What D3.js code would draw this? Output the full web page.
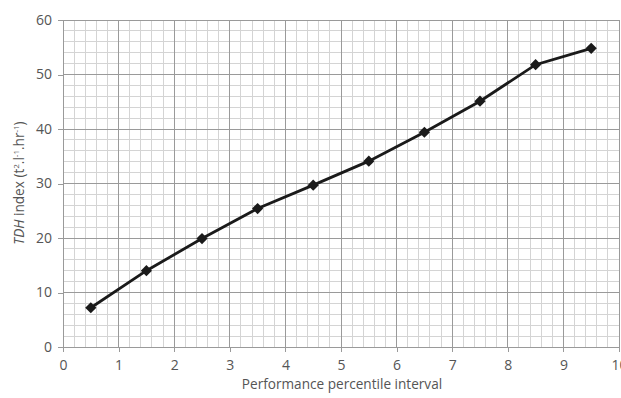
<!DOCTYPE html>
<html><head><meta charset="utf-8">
<script src="https://cdn.jsdelivr.net/npm/d3@7"></script>
<style>body{margin:0;background:#fff;}svg{display:block;font-family:"Open Sans",sans-serif;}</style>
</head><body>
<svg id="c" width="621" height="398"></svg>
<script>
const xValues = [0.5,1.5,2.5,3.5,4.5,5.5,6.5,7.5,8.5,9.5];
const tdhValues = [7.2,14.0,19.9,25.4,29.7,34.1,39.4,45.1,51.8,54.8];
const xTicks = [0,1,2,3,4,5,6,7,8,9,10];
const yTicks = [0,10,20,30,40,50,60];

const svg = d3.select("#c");
const L=63, R=619, T=20, B=347;
const x = d3.scaleLinear().domain([0,10]).range([L,R]);
const y = d3.scaleLinear().domain([0,60]).range([B,T]);

const g = svg.append("g");
const xMinor = d3.range(0,10.001,0.2), yMinor = d3.range(0,60.001,2);
g.selectAll(".xm").data(xMinor).enter().append("line")
 .attr("x1",d=>x(d)).attr("x2",d=>x(d)).attr("y1",T).attr("y2",B)
 .attr("stroke","#d4d4d4").attr("stroke-width",1).attr("shape-rendering","crispEdges");
g.selectAll(".ym").data(yMinor).enter().append("line")
 .attr("y1",d=>y(d)).attr("y2",d=>y(d)).attr("x1",L).attr("x2",R)
 .attr("stroke","#d4d4d4").attr("stroke-width",1).attr("shape-rendering","crispEdges");
g.selectAll(".xM").data(xTicks).enter().append("line")
 .attr("x1",d=>x(d)).attr("x2",d=>x(d)).attr("y1",T).attr("y2",B)
 .attr("stroke","#9a9a9a").attr("stroke-width",1).attr("shape-rendering","crispEdges");
g.selectAll(".yM").data(yTicks).enter().append("line")
 .attr("y1",d=>y(d)).attr("y2",d=>y(d)).attr("x1",L).attr("x2",R)
 .attr("stroke","#9a9a9a").attr("stroke-width",1).attr("shape-rendering","crispEdges");

const xAxis = svg.append("g").attr("transform",`translate(0,${B})`)
 .call(d3.axisBottom(x).tickValues(xTicks).tickSize(5).tickPadding(8).tickFormat(d3.format("d")));
const yAxis = svg.append("g").attr("transform",`translate(${L},0)`)
 .call(d3.axisLeft(y).tickValues(yTicks).tickSize(5).tickPadding(6).tickFormat(d3.format("d")));
[xAxis,yAxis].forEach(a=>{
  a.select(".domain").attr("stroke","#9a9a9a").attr("shape-rendering","crispEdges");
  a.selectAll(".tick line").attr("stroke","#9a9a9a").attr("shape-rendering","crispEdges");
  a.selectAll(".tick text").attr("fill","#555").style("font-size","14px").style("font-family","'Open Sans',sans-serif");
});

const pts = xValues.map((d,i)=>[d,tdhValues[i]]);
svg.append("path").datum(pts)
 .attr("d",d3.line().x(d=>x(d[0])).y(d=>y(d[1])))
 .attr("fill","none").attr("stroke","#1a1a1a").attr("stroke-width",2.8);
svg.selectAll(".pt").data(pts).enter().append("path")
 .attr("transform",d=>`translate(${x(d[0])},${y(d[1])})`)
 .attr("d",d3.symbol().type(d3.symbolDiamond2).size(80))
 .attr("fill","#1a1a1a");

svg.append("text").attr("x",(L+R)/2+1).attr("y",389).attr("text-anchor","middle")
 .attr("fill","#555").style("font-size","13.6px").text("Performance percentile interval");
const yt = svg.append("text").attr("transform","translate(24,183) rotate(-90)").attr("text-anchor","middle")
 .attr("fill","#555").style("font-size","13.6px");
yt.append("tspan").style("font-style","italic").text("TDH");
yt.append("tspan").text(" index (t");
yt.append("tspan").attr("dy",-5).style("font-size","8px").text("2");
yt.append("tspan").attr("dy",5).text(".l");
yt.append("tspan").attr("dy",-5).style("font-size","8px").text("-1");
yt.append("tspan").attr("dy",5).text(".hr");
yt.append("tspan").attr("dy",-5).style("font-size","8px").text("-1");
yt.append("tspan").attr("dy",5).text(")");
</script>
</body></html>
